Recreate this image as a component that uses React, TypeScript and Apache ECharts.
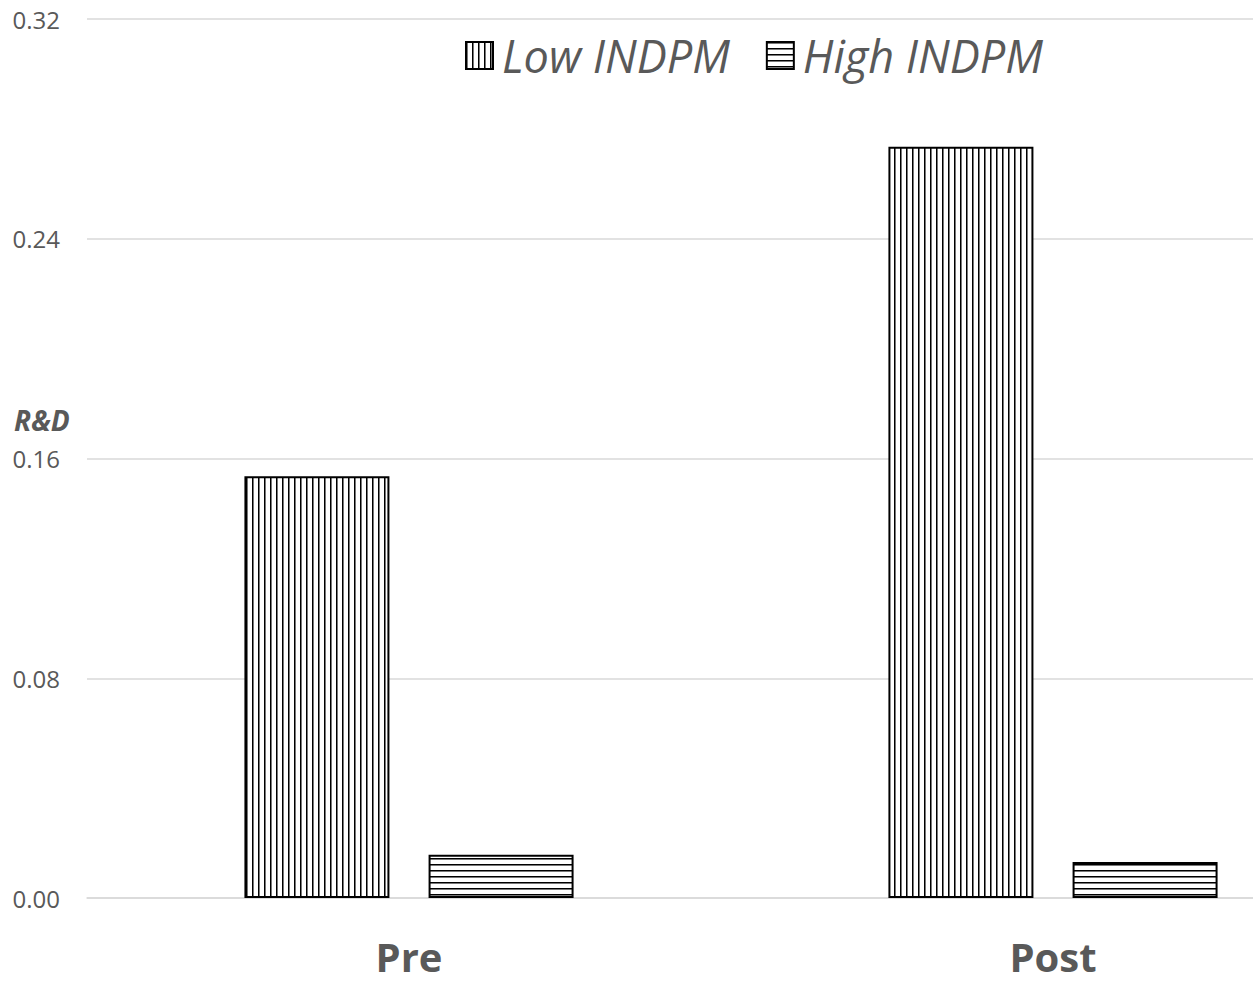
import React, { useEffect, useRef } from "react";
import * as echarts from "echarts";

// Chart data
const categories = ["Pre", "Post"];
const seriesNames = ["Low INDPM", "High INDPM"];
const lowValues = [0.1535, 0.2735];
const highValues = [0.0157, 0.0131];
const yTicks = { min: 0, max: 0.32, interval: 0.08 };

const GREY = "#595959";

// Striped fill used for the bars: vertical stripes or horizontal stripes
function stripePattern(vertical: boolean): HTMLCanvasElement {
  const size = 6;
  const c = document.createElement("canvas");
  c.width = size;
  c.height = size;
  const ctx = c.getContext("2d")!;
  ctx.fillStyle = "#ffffff";
  ctx.fillRect(0, 0, size, size);
  if (vertical) {
    ctx.fillStyle = "#000000";
    ctx.fillRect(0, 0, 1, size);
    ctx.fillStyle = "#777777";
    ctx.fillRect(1, 0, 1, size);
  } else {
    ctx.fillStyle = "#000000";
    ctx.fillRect(0, 0, size, 1);
    ctx.fillStyle = "#777777";
    ctx.fillRect(0, 1, size, 1);
  }
  return c;
}

export default function App() {
  const ref = useRef<HTMLDivElement>(null);

  useEffect(() => {
    if (!ref.current) return;
    const chart = echarts.init(ref.current, null, { renderer: "svg" });
    const vPattern = { image: stripePattern(true), repeat: "repeat" };
    const hPattern = { image: stripePattern(false), repeat: "repeat" };

    chart.setOption({
      animation: false,
      backgroundColor: "#ffffff",
      textStyle: { fontFamily: "Open Sans" },
      grid: { left: 87, right: 0, top: 19, bottom: 86, containLabel: false },
      legend: {
        left: 460,
        top: 28,
        itemWidth: 27,
        itemHeight: 27,
        itemGap: 36,
        icon: "rect",
        data: seriesNames,
        textStyle: {
          fontSize: 45,
          fontStyle: "italic",
          color: GREY,
          fontFamily: "Open Sans",
          padding: [0, 0, 0, 4],
        },
      },
      xAxis: {
        type: "category",
        data: categories,
        axisLine: { show: true, lineStyle: { color: "#d9d9d9", width: 1.5 } },
        axisTick: { show: false },
        axisLabel: {
          margin: 38,
          fontSize: 40,
          lineHeight: 40,
          fontWeight: "bold",
          color: GREY,
          fontFamily: "Open Sans",
        },
      },
      yAxis: {
        type: "value",
        min: yTicks.min,
        max: yTicks.max,
        interval: yTicks.interval,
        axisLine: { show: false },
        axisTick: { show: false },
        axisLabel: {
          margin: 27,
          fontSize: 24,
          color: GREY,
          fontFamily: "Open Sans",
          formatter: (v: number) => v.toFixed(2),
        },
        splitLine: { lineStyle: { color: "#d9d9d9", width: 1.5 } },
      },
      graphic: [
        {
          type: "text",
          left: 14,
          top: 406,
          style: {
            text: "R&D",
            font: "italic bold 28px 'Open Sans'",
            fill: GREY,
          },
        },
      ],
      series: [
        {
          name: seriesNames[0],
          type: "bar",
          data: lowValues,
          barWidth: 145,
          barGap: "27%",
          itemStyle: { color: vPattern, borderColor: "#000", borderWidth: 2 },
        },
        {
          name: seriesNames[1],
          type: "bar",
          data: highValues,
          barWidth: 145,
          barGap: "27%",
          itemStyle: { color: hPattern, borderColor: "#000", borderWidth: 2 },
        },
      ],
    });
    return () => chart.dispose();
  }, []);

  return (
    <div
      style={{
        position: "fixed",
        left: 0,
        top: 0,
        width: 1253,
        height: 984,
        overflow: "hidden",
        background: "#fff",
      }}
    >
      <div ref={ref} style={{ width: 1375, height: 984 }} />
    </div>
  );
}
